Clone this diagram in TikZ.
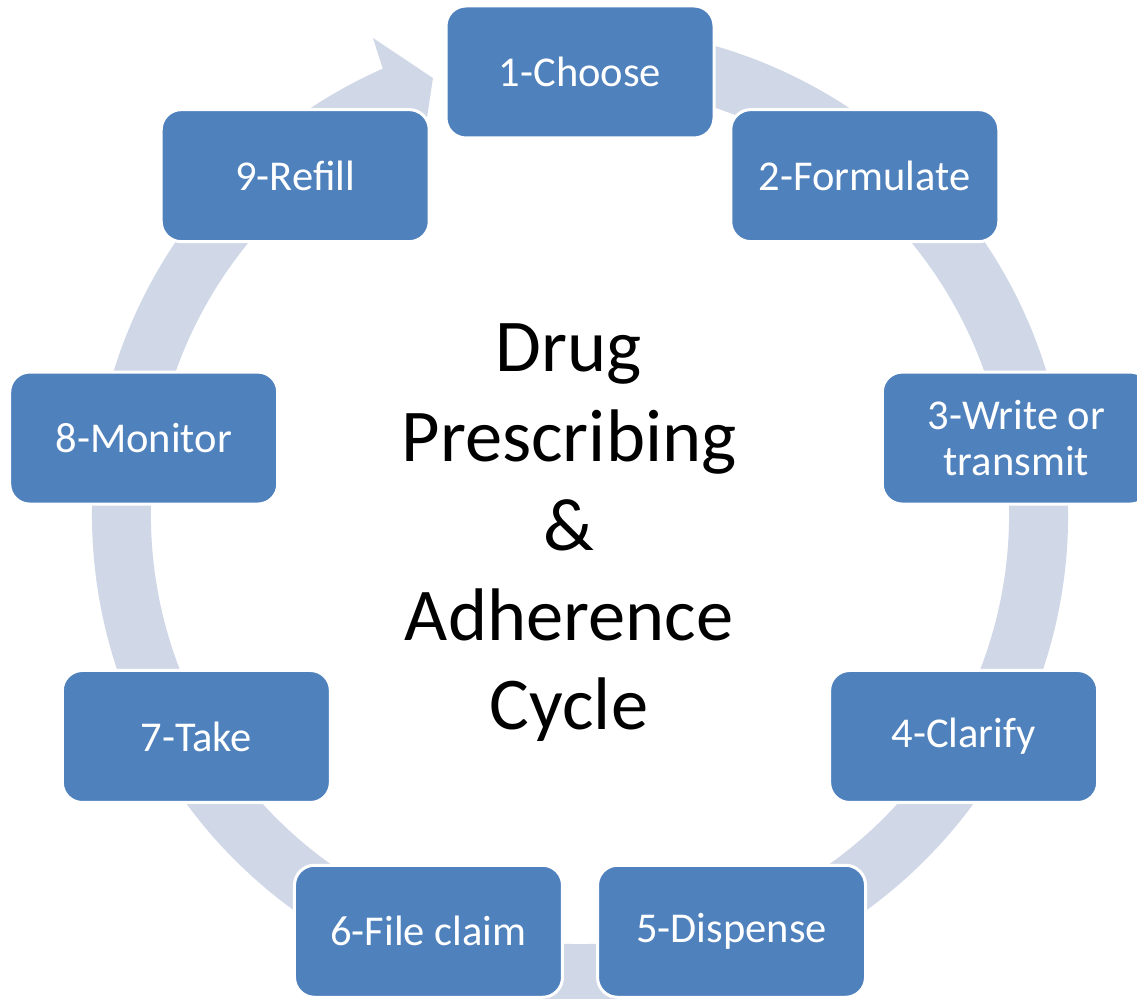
\documentclass[tikz,border=0pt]{standalone}
\usepackage{fontspec}
\setmainfont{Carlito}
\definecolor{boxblue}{RGB}{79,129,189}
\definecolor{ringcol}{RGB}{208,216,232}
\begin{document}
\begin{tikzpicture}[x=1pt,y=1pt,
  stepbox/.style={rounded corners=20pt, fill=boxblue, draw=white, line width=3pt,
    minimum width=268pt, minimum height=132pt, inner sep=0pt, text=white,
    font=\fontsize{42.5}{46}\selectfont, align=center},
  titlefont/.style={font=\fontsize{74.5}{89.5}\selectfont, align=center, inner sep=0pt, text=black}]
\useasboundingbox (0,0) rectangle (1137,998);
\clip (0,0) rectangle (1137,998);
\coordinate (C) at (580,483);
% ring arrow
\fill[ringcol] ([shift={(100:488)}]C) arc[start angle=100, end angle=-246.15, radius=488]
  -- ([shift={(-246.54:520)}]C) -- ([shift={(-251.4:461)}]C) -- ([shift={(-246.54:397)}]C)
  -- ([shift={(-246.15:429)}]C) arc[start angle=-246.15, end angle=100, radius=429] -- cycle;
% boxes
\node[stepbox] (b1) at ([shift={(90:443)}]C) {1-Choose};
\node[stepbox] (b2) at ([shift={(50:443)}]C) {2-Formulate};
\node[stepbox] (b3) at ([shift={(10:443)}]C) {3-Write or\\transmit};
\node[stepbox] (b4) at ([shift={(-30:443)}]C) {4-Clarify};
\node[stepbox] (b5) at ([shift={(-70:443)}]C) {5-Dispense};
\node[stepbox] (b6) at ([shift={(-110:443)}]C) {6-File claim};
\node[stepbox] (b7) at ([shift={(-150:443)}]C) {7-Take};
\node[stepbox] (b8) at ([shift={(170:443)}]C) {8-Monitor};
\node[stepbox] (b9) at ([shift={(130:443)}]C) {9-Refill};
% title
\node[titlefont] (title) at (569,465) {Drug\\Prescribing\\\&\\Adherence\\Cycle};
\end{tikzpicture}
\end{document}
